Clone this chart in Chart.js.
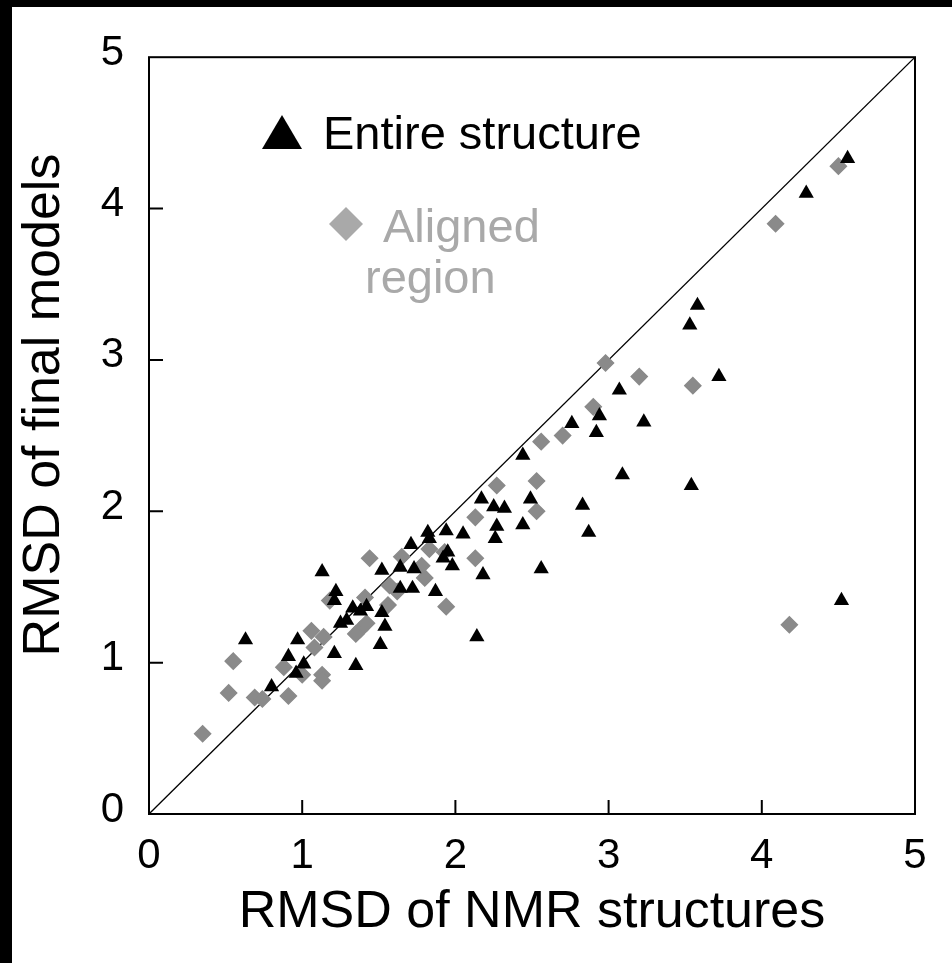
<!DOCTYPE html>
<html>
<head>
<meta charset="utf-8">
<script src="https://cdn.jsdelivr.net/npm/chart.js@4.4.1/dist/chart.umd.min.js"></script>
<style>
  html, body { margin: 0; padding: 0; background: #000; overflow: hidden; }
  #wrap { position: absolute; left: 12px; top: 7px; width: 940px; height: 956px; background: #fff; }
</style>
</head>
<body>
<div id="wrap"><canvas id="chart" width="940" height="956"></canvas></div>
<script>
// --- Data ---
const axisTicks = [0, 1, 2, 3, 4, 5];
const innerTicks = [1, 2, 3, 4];

const entireX = [0.63, 1.13, 1.22, 1.21, 1.33, 1.38, 1.25, 1.29, 0.97, 0.91, 1.01, 0.96, 0.80, 1.21, 1.35,
                 2.17, 2.25, 2.32, 2.49, 2.27, 2.26, 2.44, 2.56, 2.05, 1.94, 1.82, 1.83, 1.71, 1.95, 1.92,
                 1.98, 2.18, 2.14, 1.52, 1.64, 1.73, 1.64, 1.72, 1.87, 1.42, 1.52, 1.54, 1.51,
                 3.53, 3.58, 3.72, 3.07, 2.94, 2.76, 2.92, 3.23, 2.44, 3.09, 3.54, 2.83, 2.87,
                 4.56, 4.29, 4.52];
const entireY = [1.15, 1.60, 1.47, 1.41, 1.36, 1.34, 1.26, 1.28, 1.15, 1.04, 0.99, 0.93, 0.84, 1.06, 0.98,
                 2.08, 2.03, 2.02, 2.08, 1.90, 1.82, 1.91, 1.62, 1.85, 1.87, 1.86, 1.82, 1.78, 1.73, 1.69,
                 1.64, 1.58, 1.17, 1.61, 1.63, 1.62, 1.49, 1.49, 1.47, 1.37, 1.33, 1.24, 1.12,
                 3.23, 3.36, 2.89, 2.80, 2.63, 2.58, 2.52, 2.59, 2.37, 2.24, 2.17, 2.04, 1.86,
                 4.33, 4.10, 1.41];

const alignedX = [0.35, 0.52, 0.55, 0.69, 0.74, 0.91, 0.88, 1.00, 1.13, 1.13, 1.06, 1.14, 1.08, 1.18, 1.38,
                  1.35, 1.42, 1.44, 1.41, 2.27, 2.53, 2.53, 2.13, 1.83, 1.93, 2.13, 1.65, 1.78, 1.80, 1.57,
                  1.62, 1.56, 1.94, 2.98, 3.20, 3.55, 2.90, 2.70, 2.56, 4.50, 4.09, 4.18];
const alignedY = [0.53, 0.80, 1.01, 0.77, 0.76, 0.78, 0.97, 0.92, 0.92, 0.88, 1.21, 1.17, 1.10, 1.41, 1.22,
                  1.19, 1.26, 1.69, 1.43, 2.17, 2.20, 2.00, 1.96, 1.75, 1.73, 1.69, 1.70, 1.64, 1.56, 1.51,
                  1.47, 1.38, 1.37, 2.98, 2.89, 2.83, 2.69, 2.50, 2.46, 4.28, 3.90, 1.25];

const diagonal = [0, 5];

const FONT = "'Liberation Sans', Arial, sans-serif";
const GREY_POINT = '#8a8a8a';
const GREY_TEXT = '#a9a9a9';

const toPoints = (xs, ys) => xs.map((x, i) => ({ x: x, y: ys[i] }));
const useTicks = scale => { scale.ticks = axisTicks.map(v => ({ value: v })); };

// frame, inward tick marks, y title and the text legend
const decorations = {
    id: 'decorations',
    afterDraw(chart) {
        const { ctx, chartArea: a, scales } = chart;
        ctx.save();
        ctx.strokeStyle = '#000';
        ctx.lineWidth = 2;
        ctx.strokeRect(a.left, a.top, a.right - a.left, a.bottom - a.top);

        ctx.beginPath();
        innerTicks.forEach(v => {
            const px = scales.x.getPixelForValue(v);
            ctx.moveTo(px, a.bottom);
            ctx.lineTo(px, a.bottom - 14);
            const py = scales.y.getPixelForValue(v);
            ctx.moveTo(a.left, py);
            ctx.lineTo(a.left + 14, py);
        });
        ctx.stroke();

        // y axis title sits a bit above the middle of the axis
        ctx.save();
        ctx.translate(33, 398);
        ctx.rotate(-Math.PI / 2);
        ctx.fillStyle = '#000';
        ctx.font = '52px ' + FONT;
        ctx.textAlign = 'center';
        ctx.textBaseline = 'middle';
        ctx.fillText('RMSD of final models', 0, 0);
        ctx.restore();

        // legend box
        ctx.fillStyle = '#000';
        ctx.beginPath();
        ctx.moveTo(250, 142);
        ctx.lineTo(290, 142);
        ctx.lineTo(270, 108);
        ctx.closePath();
        ctx.fill();
        ctx.font = '47px ' + FONT;
        ctx.textBaseline = 'alphabetic';
        ctx.textAlign = 'left';
        ctx.fillText('Entire structure', 311, 142);

        ctx.fillStyle = GREY_TEXT;
        ctx.beginPath();
        ctx.moveTo(334, 200);
        ctx.lineTo(351, 217);
        ctx.lineTo(334, 234);
        ctx.lineTo(317, 217);
        ctx.closePath();
        ctx.fill();
        ctx.fillText('Aligned', 371, 235);
        ctx.fillText('region', 353, 286);
        ctx.restore();
    }
};

new Chart(document.getElementById('chart'), {
    type: 'scatter',
    data: {
        datasets: [
            {
                label: 'Entire structure',
                data: toPoints(entireX, entireY),
                pointStyle: 'triangle',
                pointRadius: 8.8,
                backgroundColor: '#000',
                borderColor: '#000',
                borderWidth: 0
            },
            {
                label: 'Aligned region',
                data: toPoints(alignedX, alignedY),
                pointStyle: 'rectRot',
                pointRadius: 8,
                backgroundColor: GREY_POINT,
                borderColor: GREY_POINT,
                borderWidth: 1.5
            },
            {
                type: 'line',
                label: 'y = x',
                data: toPoints(diagonal, diagonal),
                borderColor: '#000',
                borderWidth: 1.3,
                pointRadius: 0,
                fill: false
            }
        ]
    },
    options: {
        responsive: false,
        animation: false,
        events: [],
        layout: { padding: { top: 39, right: 37, left: 0, bottom: 0 } },
        plugins: { legend: { display: false }, tooltip: { enabled: false } },
        scales: {
            x: {
                type: 'linear', min: 0, max: 5, position: 'bottom',
                afterBuildTicks: useTicks,
                afterFit: s => { s.height = 149; },
                grid: { display: false, drawTicks: false },
                border: { display: false },
                ticks: { color: '#000', padding: 17, maxRotation: 0, autoSkip: false,
                         font: { family: FONT, size: 42, lineHeight: 1.2 } },
                title: { display: true, text: 'RMSD of NMR structures', color: '#000',
                         font: { family: FONT, size: 52, lineHeight: 1.2 }, padding: { top: 0, bottom: 19 } }
            },
            y: {
                type: 'linear', min: 0, max: 5, position: 'left',
                afterBuildTicks: useTicks,
                afterFit: s => { s.width = 137; },
                grid: { display: false, drawTicks: false },
                border: { display: false },
                ticks: { color: '#000', padding: 25, labelOffset: -4, autoSkip: false,
                         font: { family: FONT, size: 42, lineHeight: 1.2 } },
                title: { display: false }
            }
        }
    },
    plugins: [decorations]
});
</script>
</body>
</html>
